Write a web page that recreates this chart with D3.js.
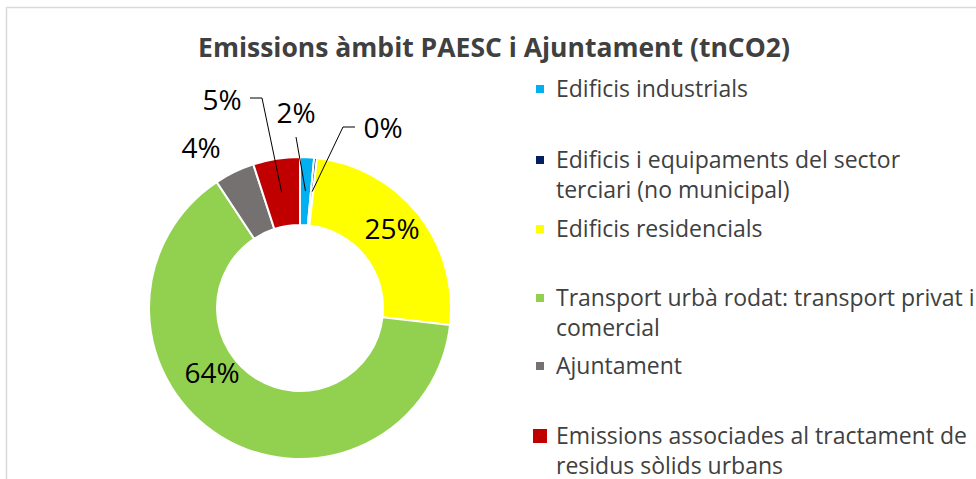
<!DOCTYPE html>
<html>
<head>
<meta charset="utf-8">
<script src="https://cdn.jsdelivr.net/npm/d3@7"></script>
<style>
  body { margin: 0; background: #fff; }
  text { font-family: "Open Sans", sans-serif; }
</style>
</head>
<body>
<svg></svg>
<script>
const SVG_WIDTH = 976, SVG_HEIGHT = 479;
const CENTER = { "x": 300, "y": 308 };
const OUTER_RADIUS = 151, INNER_RADIUS = 83;

// categories (legend order = slice order, clockwise from 12 o'clock)
const categories = [
    "Edificis industrials",
    "Edificis i equipaments del sector\nterciari (no municipal)",
    "Edificis residencials",
    "Transport urbà rodat: transport privat i\ncomercial",
    "Ajuntament",
    "Emissions associades al tractament de\nresidus sòlids urbans"
];
// share of emissions, %
const values = [1.5, 0.3, 25.0, 63.9, 4.3, 5.0];
const colors = ["#00b0f0", "#002060", "#ffff00", "#92d050", "#767171", "#c00000"];
const labels = ["2%", "0%", "25%", "64%", "4%", "5%"];

// label placement relative to the donut centre, Excel style
const labelPos = [
    { x: -4, y: -195 }, { x: 83, y: -180 }, { x: 92, y: -79 },
    { x: -88, y: 65 }, { x: -99, y: -160 }, { x: -78, y: -208 }
];
// leader lines: start point relative to centre, optional elbow
const leaders = [
    { x: -4, y: -171 },
    { x: 55, y: -181, ex: 43, ey: -181 },
    null, null, null,
    { x: -50, y: -210, ex: -38, ey: -210 }
];
const legendY = [89, 160, 229, 298, 366, 436];
// the last legend marker is drawn bigger in the source chart
const markerSize = [8, 8, 8, 8, 8, 14];
const LINE_H = 30;

var svg = d3.select("svg")
    .attr("width", SVG_WIDTH)
    .attr("height", SVG_HEIGHT);

// chart frame (cropped on the right and bottom)
svg.append("rect")
    .attr("x", 6.5).attr("y", 7.5)
    .attr("width", 1000).attr("height", 500)
    .attr("fill", "none")
    .attr("stroke", "#d9d9d9")
    .attr("stroke-width", 1.5);

svg.append("text")
    .attr("x", 494)
    .attr("y", 57)
    .attr("text-anchor", "middle")
    .attr("font-size", 26.5)
    .attr("font-weight", "bold")
    .attr("fill", "#404040")
    .text("Emissions àmbit PAESC i Ajuntament (tnCO2)");

var pie = d3.pie().sort(null).value(function(d) { return d; });
var arcs = pie(values);
var arc = d3.arc().innerRadius(INNER_RADIUS).outerRadius(OUTER_RADIUS);

var g = svg.append("g")
    .attr("transform", "translate(" + CENTER.x + "," + CENTER.y + ")");

g.selectAll("path.slice").data(arcs).enter().append("path")
    .attr("class", "slice")
    .attr("d", arc)
    .attr("fill", function(d, i) { return colors[i]; })
    .attr("stroke", "#fff")
    .attr("stroke-width", 2);

// leader lines to the slice centroid
g.selectAll("path.leader").data(arcs.filter(function(d, i) { return leaders[i]; })).enter()
    .append("path")
    .attr("class", "leader")
    .attr("fill", "none")
    .attr("stroke", "#000")
    .attr("stroke-width", 1)
    .attr("d", function(d) {
        var l = leaders[d.index], c = arc.centroid(d);
        var p = d3.path();
        p.moveTo(l.x, l.y);
        if (l.ex !== undefined) p.lineTo(l.ex, l.ey);
        p.lineTo(c[0], c[1]);
        return p.toString();
    });

g.selectAll("text.lbl").data(arcs).enter().append("text")
    .attr("class", "lbl")
    .attr("x", function(d, i) { return labelPos[i].x; })
    .attr("y", function(d, i) { return labelPos[i].y; })
    .attr("dy", "0.36em")
    .attr("text-anchor", "middle")
    .attr("font-size", 28)
    .attr("fill", "#000")
    .text(function(d, i) { return labels[i]; });

// legend
var legend = svg.append("g").selectAll("g").data(categories).enter().append("g")
    .attr("transform", function(d, i) { return "translate(540," + legendY[i] + ")"; });

legend.append("rect")
    .attr("x", function(d, i) { return -markerSize[i] / 2; })
    .attr("y", function(d, i) { return -markerSize[i] / 2; })
    .attr("width", function(d, i) { return markerSize[i]; })
    .attr("height", function(d, i) { return markerSize[i]; })
    .attr("fill", function(d, i) { return colors[i]; });

legend.append("text")
    .attr("x", 16)
    .attr("y", 8)
    .attr("font-size", 23)
    .attr("fill", "#404040")
    .selectAll("tspan").data(function(d) { return d.split("\n"); }).enter().append("tspan")
        .attr("x", 16)
        .attr("dy", function(d, i) { return i ? LINE_H : 0; })
        .text(function(d) { return d; });
</script>
</body>
</html>
